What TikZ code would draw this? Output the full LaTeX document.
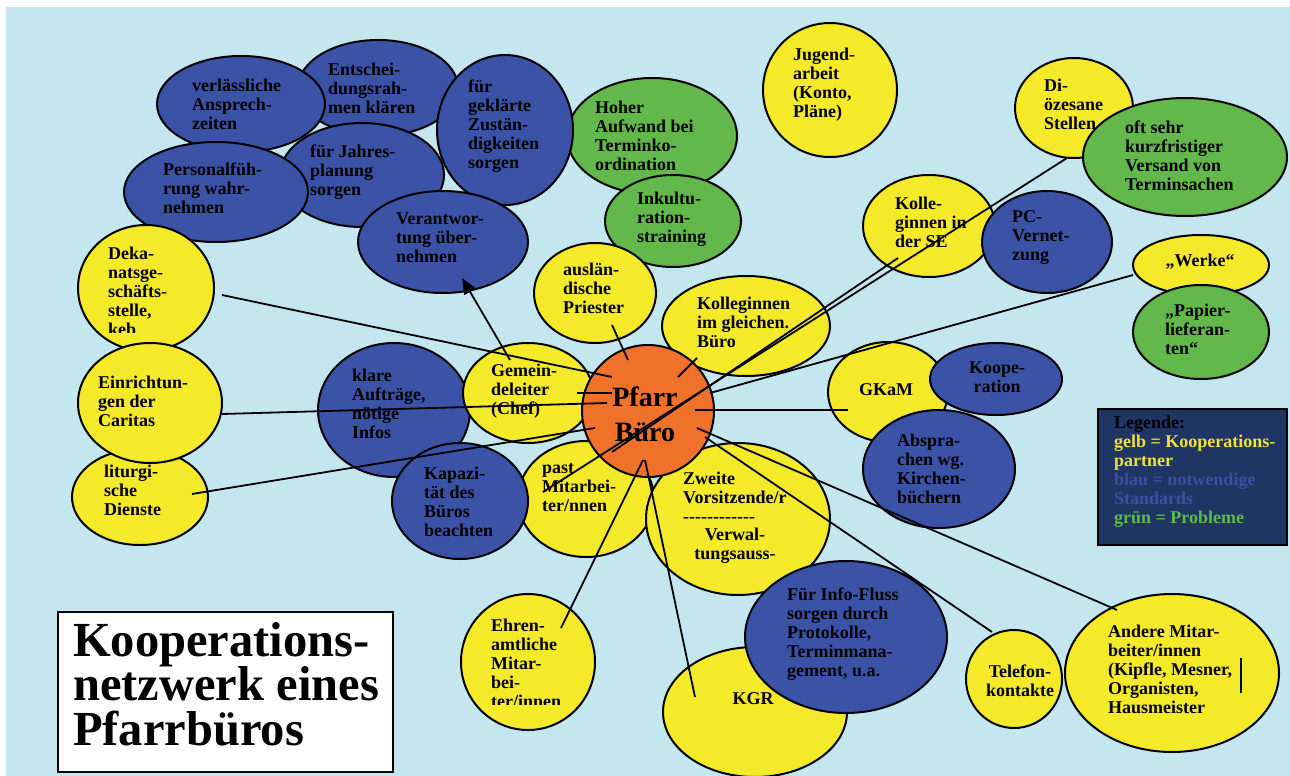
\documentclass[tikz,border=0pt]{standalone}
\usepackage{fontspec}
\usepackage{graphicx}
\setmainfont{Liberation Serif}
\newfontfamily\titlefam{Liberation Serif}[FakeStretch=0.99]
\usetikzlibrary{arrows.meta,shapes.geometric}
\definecolor{bg}{HTML}{C4E6EF}
\definecolor{yel}{HTML}{F5EA2A}
\definecolor{blu}{HTML}{3A53A6}
\definecolor{grn}{HTML}{62B84A}
\definecolor{org}{HTML}{F0712A}
\definecolor{navy}{HTML}{1F3563}
\definecolor{legyel}{HTML}{EDE23C}
\definecolor{legblu}{HTML}{3B50A0}
\definecolor{leggrn}{HTML}{5DBB4B}
\newcommand{\bodyfont}{\fontsize{18}{19}\selectfont\bfseries}
\newcommand{\bub}[5]{\node[#1, minimum width=#4pt, minimum height=#5pt] (#2) at (#3) {};}
\tikzset{
  bubble/.style={ellipse, draw=black, line width=2pt, inner sep=0pt},
  Y/.style={bubble, fill=yel},
  B/.style={bubble, fill=blu},
  G/.style={bubble, fill=grn},
  O/.style={bubble, fill=org},
  txt/.style={font=\bodyfont, align=left, inner sep=0pt, anchor=west},
  ctxt/.style={font=\bodyfont, align=center, inner sep=0pt},
  con/.style={line width=1.8pt, draw=black},
  ttl/.style={font=\titlefam\fontsize{49}{44.5}\selectfont\bfseries, inner sep=0pt, anchor=base west},
}
\begin{document}
\begin{tikzpicture}[x=1pt,y=-1pt]
\useasboundingbox (0,0) rectangle (1290,776);
\fill[white] (0,0) rectangle (1290,776);
\fill[bg] (6,7) rectangle (1290,776);

% ---------- upper left blue cluster
\bub{B}{ent}{378,88}{160}{96}
\node[txt] (entt) at (328,88) {Entschei-\\dungsrah-\\men klären};
\bub{B}{jah}{362,175}{164}{104}
\node[txt] (jaht) at (310,172) {für Jahres-\\planung\\sorgen};
\bub{B}{ver}{241,104}{168}{96}
\node[txt] (vert) at (192,104.5) {verlässliche\\Ansprech-\\zeiten};
\bub{B}{per}{216,192}{184}{100}
\node[txt] (pert) at (163,188) {Personalfüh-\\rung wahr-\\nehmen};
\bub{G}{hoh}{652,136}{170}{116}
\node[txt] (hoht) at (595,135.5) {Hoher\\Aufwand bei\\Terminko-\\ordination};
\bub{B}{gek}{505,130}{136}{150}
\node[txt] (gekt) at (468,126.5) {für\\geklärte\\Zustän-\\digkeiten\\sorgen};
\bub{B}{vant}{443,242}{170}{102}
\node[txt] (vantt) at (396,238) {Verantwor-\\tung über-\\nehmen};
\bub{G}{ink}{673,221}{136}{92}
\node[txt] (inkt) at (637,219) {Inkultu-\\ration-\\straining};
\bub{Y}{aus}{595,293}{122}{100}
\node[txt] (aust) at (563,288) {auslän-\\dische\\Priester};

% ---------- upper right
\bub{Y}{jug}{830,90}{134}{134}
\node[txt] (jugt) at (793,85) {Jugend-\\arbeit\\(Konto,\\Pläne)};
\bub{Y}{dio}{1074,108}{118}{100}
\node[txt] (diot) at (1044,104) {Di-\\özesane\\Stellen};
\bub{G}{oft}{1185,157}{204}{118}
\node[txt] (oftt) at (1125,156) {oft sehr\\kurzfristiger\\Versand von\\Terminsachen};
\bub{Y}{kse}{929,226}{132}{102}
\node[txt] (kset) at (895,222) {Kolle-\\ginnen in\\der SE};
\bub{B}{pc}{1047,242}{130}{102}
\node[txt] (pct) at (1012,238) {PC-\\Vernet-\\zung};
\bub{Y}{wer}{1201,265}{136}{60}
\node[ctxt] (wert) at (1200,262) {„Werke“};
\bub{G}{pap}{1201,332}{136}{94}
\node[txt] (papt) at (1165,329) {„Papier-\\lieferan-\\ten“};
\bub{Y}{gka}{888,392}{120}{100}
\node[ctxt] (gkat) at (886,390) {GKaM};
\bub{B}{koo}{996,379}{132}{72}
\node[ctxt] (koot) at (997,377) {Koope-\\ration};
\bub{B}{abs}{939,469}{152}{118}
\node[txt] (abst) at (897,468.5) {Abspra-\\chen wg.\\Kirchen-\\büchern};

% ---------- legend
\node[draw=black, line width=1.5pt, fill=navy, minimum width=189pt, minimum height=136pt, inner sep=0pt] (leg) at (1192.5,477) {};
\node[txt] (legt) at (1114,471.5) {Legende:\\\textcolor{legyel}{gelb = Kooperations-}\\\textcolor{legyel}{partner}\\\textcolor{legblu}{blau = notwendige}\\\textcolor{legblu}{Standards}\\\textcolor{leggrn}{grün = Probleme}};

% ---------- left column
\bub{Y}{dek}{146,288}{136}{126}
\begin{scope}
\clip (90,225) rectangle (215,332);
\node[txt] (dekt) at (108,291.5) {Deka-\\natsge-\\schäfts-\\stelle,\\keb};
\end{scope}
\bub{Y}{lit}{140,497}{136}{96}
\node[txt] (litt) at (104,490) {liturgi-\\sche\\Dienste};
\bub{Y}{ein}{150,403}{144}{120}
\node[txt] (eint) at (98,401.5) {Einrichtun-\\gen der\\Caritas};

% ---------- centre
\bub{B}{kla}{394,410}{152}{134}
\node[txt] (klat) at (352,404) {klare\\Aufträge,\\nötige\\Infos};
\bub{Y}{gem}{528,393}{130}{100}
\node[txt] (gemt) at (491,391) {Gemein-\\deleiter\\(Chef)};
\bub{Y}{pas}{586,499}{136}{116}
\node[txt] (past) at (542,488) {past\\Mitarbei-\\ter/nnen};
\bub{B}{kap}{460,501}{136}{116}
\node[txt] (kapt) at (424,501.5) {Kapazi-\\tät des\\Büros\\beachten};
\bub{Y}{kgl}{746,326}{168}{100}
\node[txt] (kglt) at (697,322) {Kolleginnen\\im gleichen.\\Büro};
\bub{Y}{zwe}{738,519}{184}{152}
\node[txt] (zwet) at (683,497) {Zweite\\Vorsitzende/r\\{-}{-}{-}{-}{-}{-}{-}{-}{-}{-}{-}{-}};
\node[ctxt] (zwet2) at (735,546) {Verwal-\\tungsauss-};
\bub{Y}{kgr}{755,712}{184}{130}
\node[ctxt] (kgrt) at (753,699) {KGR};
\bub{B}{inf}{846,637}{202}{152}
\node[txt] (inft) at (787,634.5) {Für Info-Fluss\\sorgen durch\\Protokolle,\\Terminmana-\\gement, u.a.};
\bub{O}{pb}{648,411}{132}{132}
\node[font=\fontsize{28}{35}\selectfont\bfseries, align=center, inner sep=0pt] (pbt) at (645,414) {Pfarr\\Büro};

% ---------- bottom
\bub{Y}{ehr}{528,662}{134}{136}
\begin{scope}
\clip (470,600) rectangle (600,704);
\node[txt] (ehrt) at (491,663.5) {Ehren-\\amtliche\\Mitar-\\bei-\\ter/innen};
\end{scope}
\bub{Y}{tel}{1014,679}{96}{98}
\node[ctxt] (telt) at (1020,681) {Telefon-\\kontakte};
\bub{Y}{and}{1172,673}{214}{158}
\node[txt] (andt) at (1108,669) {Andere Mitar-\\beiter/innen\\(Kipfle, Mesner,\\Organisten,\\Hausmeister};
\draw[line width=1.5pt] (1241,658) -- (1241,693);

% ---------- title
\node[draw=black, line width=1.5pt, fill=white, minimum width=335pt, minimum height=160pt, inner sep=0pt] (tbox) at (225.5,692) {};
\node[ttl] (title1) at (73,656) {Kooperations-};
\node[ttl] (title2) at (73,700.5) {netzwerk eines};
\node[ttl] (title3) at (73,745) {Pfarrbüros};

% ---------- connector end points
\coordinate (cDek) at (222,295);   \coordinate (pDek) at (612,377);
\coordinate (cGemA) at (510,360);  \coordinate (cVerA) at (462,278);
\coordinate (cGem) at (577,393);   \coordinate (pGem) at (612,393);
\coordinate (cEin) at (222,414);   \coordinate (pEin) at (607,403);
\coordinate (cLit) at (192,494);   \coordinate (pLit) at (595,428);
\coordinate (cDio) at (1067,158);  \coordinate (cPas) at (543,492);
\coordinate (cKse) at (898,258);   \coordinate (pKse) at (612,452);
\coordinate (cKgl) at (697,358);   \coordinate (pKgl) at (678,377);
\coordinate (cAus) at (612,325);   \coordinate (pAus) at (628,360);
\coordinate (cWer) at (1133,275);  \coordinate (pWer) at (710,393);
\coordinate (cGka) at (848,410);   \coordinate (pGka) at (695,410);
\coordinate (cAnd) at (1117,610);  \coordinate (pAnd) at (697,428);
\coordinate (cTel) at (992,632);   \coordinate (pTel) at (705,437);
\coordinate (cEhr) at (561,628);   \coordinate (pEhr) at (643,460);
\coordinate (cKgr) at (695,697);   \coordinate (pKgr) at (645,460);

\draw[con] (cDek) -- (pDek);
\draw[con, -{Triangle[length=16pt,width=13pt]}] (cGemA) -- (cVerA);
\draw[con] (cGem) -- (pGem);
\draw[con] (cEin) -- (pEin);
\draw[con] (cLit) -- (pLit);
\draw[con] (cDio) -- (cPas);
\draw[con] (cKse) -- (pKse);
\draw[con] (cKgl) -- (pKgl);
\draw[con] (cAus) -- (pAus);
\draw[con] (cWer) -- (pWer);
\draw[con] (cGka) -- (pGka);
\draw[con] (cAnd) -- (pAnd);
\draw[con] (cTel) -- (pTel);
\draw[con] (cEhr) -- (pEhr);
\draw[con] (cKgr) -- (pKgr);
\end{tikzpicture}
\end{document}
